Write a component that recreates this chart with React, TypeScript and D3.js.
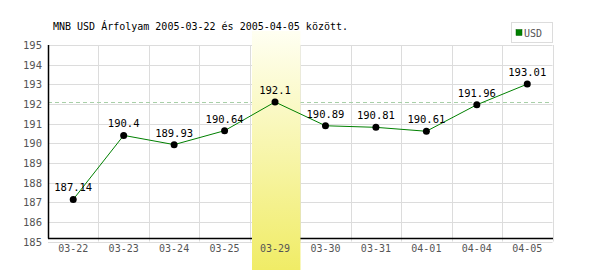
import React from "react";
import * as d3 from "d3";

const categories = ["03-22", "03-23", "03-24", "03-25", "03-29", "03-30", "03-31", "04-01", "04-04", "04-05"];
const values = [187.14, 190.4, 189.93, 190.64, 192.1, 190.89, 190.81, 190.61, 191.96, 193.01];
const valueLabels = ["187.14", "190.4", "189.93", "190.64", "192.1", "190.89", "190.81", "190.61", "191.96", "193.01"];
const yTicks = [185, 186, 187, 188, 189, 190, 191, 192, 193, 194, 195];
const highlightCategory = "03-29";
const referenceValue = 192.1;
const title = "MNB USD Árfolyam 2005-03-22 és 2005-04-05 között.";
const seriesName = "USD";

const W = 600;
const H = 270;
const left = 48;
const right = 552.5;
const top = 45;
const bottom = 241.5;
const font = "'DejaVu Sans Mono', monospace";

export default function App() {
  const x = d3.scaleBand<string>().domain(categories).range([left, right]).padding(0);
  const y = d3.scaleLinear().domain([185, 195]).range([bottom, top]);
  const cx = (c: string) => (x(c) as number) + x.bandwidth() / 2;
  const line = d3
    .line<number>()
    .x((_, i) => cx(categories[i]))
    .y((v) => y(v));

  const hx = x(highlightCategory) as number;

  return (
    <svg
      width={W}
      height={H}
      style={{ position: "absolute", left: 0, top: 0, background: "#fff" }}
      fontFamily={font}
    >
      <defs>
        <linearGradient id="hl" x1="0" y1="0" x2="0" y2="1">
          <stop offset="0" stopColor="#fffff2" />
          <stop offset="1" stopColor="#f0ec66" />
        </linearGradient>
      </defs>
      <rect x={0} y={0} width={W} height={H} fill="#fff" />
      {/* horizontal gridlines */}
      {yTicks.map((t) => (
        <line key={"h" + t} x1={left} x2={right} y1={Math.round(y(t)) + 0.5} y2={Math.round(y(t)) + 0.5} stroke="#dcdcdc" />
      ))}
      {/* vertical gridlines */}
      {categories.map((c) => (
        <line
          key={"v" + c}
          x1={Math.round((x(c) as number) + x.bandwidth()) + 0.5}
          x2={Math.round((x(c) as number) + x.bandwidth()) + 0.5}
          y1={top}
          y2={bottom}
          stroke="#dcdcdc"
        />
      ))}
      {/* reference dashed line */}
      <line
        x1={left}
        x2={right}
        y1={Math.round(y(referenceValue)) + 0.5}
        y2={Math.round(y(referenceValue)) + 0.5}
        stroke="#a8cfa8"
        strokeDasharray="4,3"
      />
      {/* axes */}
      <line x1={left + 0.5} x2={left + 0.5} y1={top} y2={bottom - 3} stroke="#000" strokeWidth={1.5} />
      <line x1={left} x2={right + 0.5} y1={bottom - 3} y2={bottom - 3} stroke="#000" strokeWidth={1.5} />
      {/* highlight band (drawn over grid and axis) */}
      <rect x={Math.round(hx) + 2} y={31} width={x.bandwidth() - 2} height={H - 31} fill="url(#hl)" />
      {/* y tick labels */}
      {yTicks.map((t) => (
        <text key={"yl" + t} x={42} y={y(t) + 4} textAnchor="end" fontSize={10.5} fill="#555">
          {t}
        </text>
      ))}
      {/* x tick labels */}
      {categories.map((c) => (
        <text key={"xl" + c} x={cx(c)} y={252} textAnchor="middle" fontSize={10} fill="#555">
          {c}
        </text>
      ))}
      {/* series */}
      <path d={line(values) || ""} fill="none" stroke="#008000" strokeWidth={1} />
      {values.map((v, i) => (
        <circle key={"p" + i} cx={cx(categories[i])} cy={y(v)} r={3.5} fill="#000" />
      ))}
      {values.map((v, i) => (
        <text key={"vl" + i} x={cx(categories[i])} y={y(v) - 8} textAnchor="middle" fontSize={10.5} fill="#000">
          {valueLabels[i]}
        </text>
      ))}
      {/* title */}
      <text x={53} y={30} fontSize={10} fill="#000">
        {title}
      </text>
      {/* legend */}
      <rect x={511.5} y={22.5} width={41} height={20} fill="#fff" stroke="#dcdcdc" />
      <rect x={516} y={29.5} width={6} height={6} fill="#008000" stroke="#006000" strokeWidth={0.5} />
      <text x={524} y={36.5} fontSize={10} fill="#555">
        {seriesName}
      </text>
    </svg>
  );
}
